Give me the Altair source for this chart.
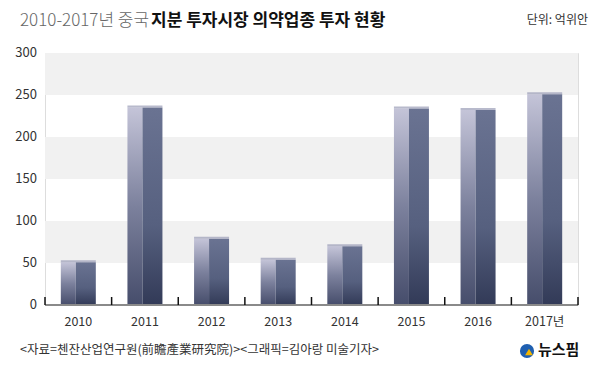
import altair as alt
import pandas as pd

years = ["2010", "2011", "2012", "2013", "2014", "2015", "2016", "2017년"]
values = [51, 235, 79, 54, 70, 234, 232, 251]
band_lo = [50, 150, 250]
band_hi = [100, 200, 300]
y_ticks = [0, 50, 100, 150, 200, 250, 300]
tick_pos = [0, 1, 2, 3, 4, 5, 6, 7, 8]

df = pd.DataFrame({"year": years, "value": values})
bands = pd.DataFrame({"lo": band_lo, "hi": band_hi})
tdf = pd.DataFrame({"t": tick_pos, "lo": [0] * 9, "hi": [9.5] * 9})
bdf = pd.DataFrame({"x0": [0], "x1": [8], "y0": [0]})
ydf = pd.DataFrame({"v": y_ticks})

W, H = 533, 252
FONT = "Noto Sans CJK KR"

yscale = alt.Scale(domain=[0, 300], nice=False)
tscale = alt.Scale(domain=[0, 8], nice=False)

xs = alt.X("year:N", sort=years, title=None,
           scale=alt.Scale(paddingInner=0, paddingOuter=0),
           axis=alt.Axis(labelAngle=0, ticks=False, domain=False,
                         labelFont=FONT, labelFontSize=12.5,
                         labelColor="#333", labelPadding=10))
ys = alt.Y("value:Q", scale=yscale, axis=None)

band_layer = alt.Chart(bands).mark_rect(color="#f1f1f1").encode(
    x=alt.value(0), x2=alt.value(W),
    y=alt.Y("lo:Q", scale=yscale, axis=None), y2="hi:Q")

front = alt.Chart(df).mark_bar(
    width=15, xOffset=-10,
    color=alt.Gradient(gradient="linear", x1=0, y1=0, x2=0, y2=1,
                       stops=[alt.GradientStop(color="#c4c4d8", offset=0),
                              alt.GradientStop(color="#7c819d", offset=0.5),
                              alt.GradientStop(color="#464d6b", offset=1)])
).encode(x=xs, y=ys)

side = alt.Chart(df).mark_bar(
    width=20, xOffset=7.5,
    color=alt.Gradient(gradient="linear", x1=0, y1=0, x2=0, y2=1,
                       stops=[alt.GradientStop(color="#6a7392", offset=0),
                              alt.GradientStop(color="#56607f", offset=0.6),
                              alt.GradientStop(color="#323a57", offset=1)])
).encode(x=xs, y=ys)

cap = alt.Chart(df).mark_tick(
    size=35, thickness=2, color="#9a9db6", xOffset=0, yOffset=-1
).encode(x=xs, y=ys)

base_main = alt.layer(band_layer, front, side, cap)

ylabels = alt.Chart(ydf).mark_text(
    font=FONT, fontSize=13, color="#333", align="right", baseline="middle"
).encode(x=alt.value(-8), y=alt.Y("v:Q", scale=yscale, axis=None), text="v:Q")

baseline = alt.Chart(bdf).mark_rule(color="#8a8a8a", strokeWidth=2).encode(
    x=alt.X("x0:Q", scale=tscale, axis=None), x2="x1:Q",
    y=alt.Y("y0:Q", scale=yscale, axis=None))

ticks = alt.Chart(tdf).mark_rule(color="#111", strokeWidth=1.5).encode(
    x=alt.X("t:Q", scale=tscale, axis=None),
    y=alt.Y("lo:Q", scale=yscale, axis=None),
    y2="hi:Q")

one = pd.DataFrame({"a": [0]})
title1 = alt.Chart(one).mark_text(
    text="2010-2017년 중국", font=FONT, fontSize=17, fontWeight=300,
    color="#666", align="left", baseline="middle").encode(
    x=alt.value(-25), y=alt.value(-32))
title2 = alt.Chart(one).mark_text(
    text="지분 투자시장 의약업종 투자 현황", font=FONT, fontSize=17, fontWeight="bold",
    color="#111", align="left", baseline="middle").encode(
    x=alt.value(106), y=alt.value(-32))
unit = alt.Chart(one).mark_text(
    text="단위: 억위안", font=FONT, fontSize=12, color="#333",
    align="right", baseline="middle").encode(
    x=alt.value(543), y=alt.value(-33))
footer = alt.Chart(one).mark_text(
    text="<자료=첸잔산업연구원(前瞻產業研究院)><그래픽=김아랑 미술기자>", font=FONT,
    fontSize=12.5, color="#333", align="left", baseline="middle").encode(
    x=alt.value(-25), y=alt.value(H + 45))
logo_c = alt.Chart(one).mark_point(
    filled=True, size=200, color="#1f5fb0", shape="circle", opacity=1).encode(
    x=alt.value(482), y=alt.value(H + 46))
logo_y = alt.Chart(one).mark_point(
    filled=True, size=60, color="#f2b500", shape="triangle-up", opacity=1).encode(
    x=alt.value(484), y=alt.value(H + 47))
logo_t = alt.Chart(one).mark_text(
    text="뉴스핌", font=FONT, fontSize=15, fontWeight="bold", color="#111",
    align="left", baseline="middle").encode(
    x=alt.value(493), y=alt.value(H + 45))

chart = alt.layer(
    base_main, ylabels, baseline, ticks,
    title1, title2, unit, footer, logo_c, logo_y, logo_t
).resolve_scale(x="independent").properties(
    width=W, height=H,
    autosize=alt.AutoSizeParams(type="none"),
    padding={"left": 37, "top": 45, "right": 14, "bottom": 55}
).configure_view(stroke=None).configure(background="white")

chart.save("out.html", embed_options={"renderer": "svg", "actions": False})
